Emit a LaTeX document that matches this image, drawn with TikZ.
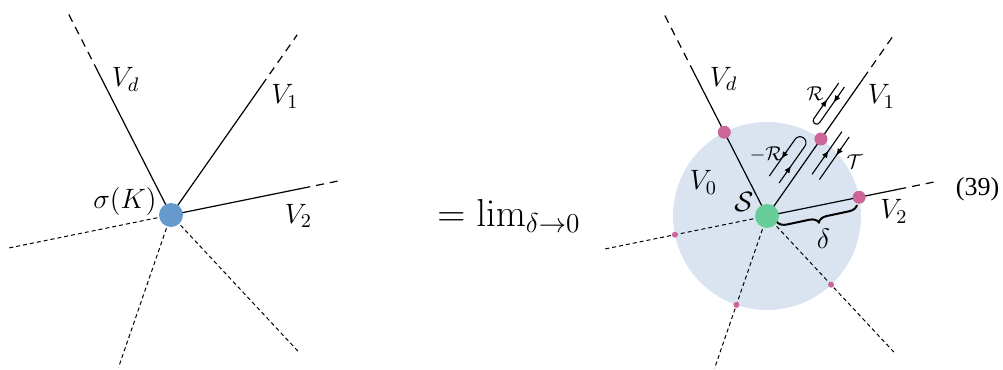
\RequirePackage{fix-cm}
\documentclass[tikz,border=0pt]{standalone}
\usepackage[no-math]{fontspec}
\newfontfamily\eqfont{Liberation Serif}
\usetikzlibrary{calc,arrows.meta,decorations.pathreplacing}
\definecolor{dotblue}{RGB}{102,153,204}
\definecolor{dotgreen}{RGB}{102,204,153}
\definecolor{dotpink}{RGB}{204,102,153}
\definecolor{diskblue}{RGB}{217,228,240}
\begin{document}
\begin{tikzpicture}[x=0.5pt,y=0.5pt,
  ray/.style={line width=0.6pt},
  raydash/.style={line width=0.6pt,dash pattern=on 4pt off 3pt},
  finedash/.style={line width=0.5pt,dash pattern=on 2pt off 1.5pt},
  lab/.style={inner sep=0pt,font=\fontsize{14}{16}\selectfont},
  smalllab/.style={inner sep=0pt,font=\fontsize{10}{12}\selectfont},
  strand/.style={line width=0.55pt},
  tipline/.style={-{Latex[length=3.6pt,width=3pt]},line width=0.55pt},
  bigdot/.style={circle,inner sep=0pt,minimum size=12pt},
  pinkbig/.style={circle,inner sep=0pt,minimum size=6.5pt,fill=dotpink},
  pinksmall/.style={circle,inner sep=0pt,minimum size=3pt,fill=dotpink}
]
\useasboundingbox (0,0) rectangle (1003,370);
\coordinate (L) at (171,155);
\coordinate (C) at (767,154);

% ---------- left figure ----------
\foreach \n/\a/\s/\e in {d/117/161/229, one/55/158/220, two/11.5/134/174} {
  \coordinate (L-\n-s) at ($(L)+(\a:\s)$);
  \coordinate (L-\n-e) at ($(L)+(\a:\e)$);
  \draw[ray] (L) -- (L-\n-s);
  \draw[raydash] (L-\n-s) -- (L-\n-e);
}
\foreach \n/\a/\e in {w/191.5/167, s/251/161, e/313/187} {
  \coordinate (L-\n-e) at ($(L)+(\a:\e)$);
  \draw[finedash] (L) -- (L-\n-e);
}
\node[bigdot,fill=dotblue] (Ldot) at (L) {};
\node[lab] at (125.5,290.5) {$V_d$};
\node[lab] at (285,273.5) {$V_1$};
\node[lab] at (298.5,154) {$V_2$};
\node[lab] at (125,168.5) {$\sigma(K)$};

% ---------- middle ----------
\node[anchor=base,inner sep=0pt,font=\fontsize{19.5}{23}\selectfont] (lim) at (509,143) {$=\lim_{\delta\to0}$};

% ---------- right figure ----------
\fill[diskblue] (C) circle[radius=94];
\foreach \n/\a/\s/\e in {d/117/161/229, one/55/168/221, two/11.5/134/174} {
  \coordinate (C-\n-s) at ($(C)+(\a:\s)$);
  \coordinate (C-\n-e) at ($(C)+(\a:\e)$);
  \draw[ray] (C) -- (C-\n-s);
  \draw[raydash] (C-\n-s) -- (C-\n-e);
}
\foreach \n/\a/\e in {w/191.5/167, s/251/161, e/313/187} {
  \coordinate (C-\n-e) at ($(C)+(\a:\e)$);
  \draw[finedash] (C) -- (C-\n-e);
}
\foreach \n/\a in {d/117, one/55, two/11.5}
  \node[pinkbig] (P-\n) at ($(C)+(\a:94)$) {};
\foreach \n/\a in {w/191.5, s/251, e/313}
  \node[pinksmall] (P-\n) at ($(C)+(\a:94)$) {};

\begin{scope}[shift={(C)},rotate=55]
  % -R hairpin
  \draw[strand] (34,21) -- (79,21) arc[start angle=90,end angle=-90,radius=6] -- (34,9);
  \draw[tipline] (64,21) -- (55,21);
  \draw[tipline] (46,9) -- (55,9);
  % R hairpin
  \draw[strand] (150,17.5) -- (106.5,17.5) arc[start angle=90,end angle=270,radius=3.5] -- (150,10.5);
  \draw[tipline] (121,17.5) -- (130,17.5);
  \draw[tipline] (140,10.5) -- (131,10.5);
  % T lines
  \draw[strand] (60,-13) -- (112,-13);
  \draw[strand] (60,-22) -- (112,-22);
  \draw[tipline] (80,-13) -- (89,-13);
  \draw[tipline] (98,-22) -- (89,-22);
\end{scope}

\node[bigdot,fill=dotgreen] (Cdot) at (C) {};

\coordinate (br1) at (857,165);
\coordinate (br2) at (777,148);
\draw[line width=1pt,decorate,decoration={brace,amplitude=4.5pt}] (br1) -- (br2);

\node[lab] at (723.5,291) {$V_d$};
\node[lab] at (881.5,273.5) {$V_1$};
\node[lab] at (894,158.5) {$V_2$};
\node[lab] at (703.5,187.5) {$V_0$};
\node[lab] at (744,168.5) {$\mathcal{S}$};
\node[lab] at (823.5,131) {$\delta$};
\node[smalllab] at (766,215.5) {$-\mathcal{R}$};
\node[smalllab] at (815,276.5) {$\mathcal{R}$};
\node[smalllab] at (854.5,208.5) {$\mathcal{T}$};
\node[inner sep=0pt,font=\fontsize{13}{15}\selectfont] (eqno) at (977.5,181) {\eqfont (39)};
\end{tikzpicture}
\end{document}
